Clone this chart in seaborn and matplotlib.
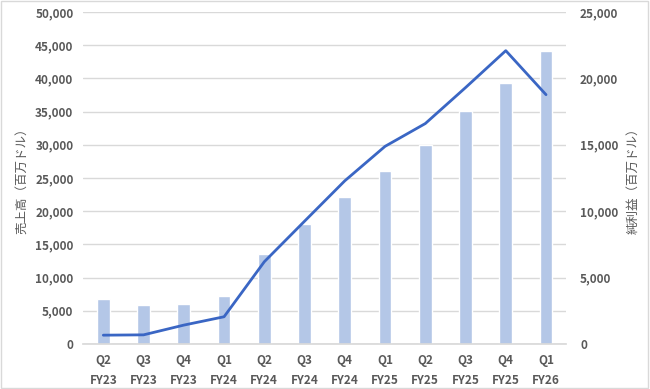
import numpy as np
import pandas as pd
import matplotlib
matplotlib.use("Agg")
import matplotlib.pyplot as plt
import seaborn as sns
from matplotlib.patches import Rectangle

quarters = ["Q2", "Q3", "Q4", "Q1", "Q2", "Q3", "Q4", "Q1", "Q2", "Q3", "Q4", "Q1"]
fiscal_years = ["FY23", "FY23", "FY23", "FY24", "FY24", "FY24", "FY24", "FY25", "FY25", "FY25", "FY25", "FY26"]
revenue = [6704, 5931, 6051, 7192, 13507, 18120, 22103, 26044, 30040, 35082, 39331, 44062]
net_income = [656, 680, 1414, 2043, 6188, 9243, 12285, 14881, 16599, 19309, 22091, 18775]
left_label = "売上高（百万ドル）"
right_label = "純利益（百万ドル）"

sns.set_theme(style="white")
plt.rcParams['font.family'] = ['Noto Sans CJK JP', 'DejaVu Sans']

labels = [f"{q}\n{fy}" for q, fy in zip(quarters, fiscal_years)]
df = pd.DataFrame({"label": labels, "revenue": revenue, "net": net_income,
                   "pos": np.arange(len(labels))})

fig = plt.figure(figsize=(6.5, 3.89), dpi=100)
fig.patches.append(Rectangle((0.002, 0.003), 0.995, 0.994, transform=fig.transFigure,
                             fill=False, edgecolor="#D9D9D9", linewidth=1.0))
ax = fig.add_axes([0.128, 0.116, 0.743, 0.853])
txt = "#595959"

sns.barplot(data=df, x="label", y="revenue", color="#B4C7E7", saturation=1,
            width=0.32, ax=ax, zorder=2)
ax.set_ylim(0, 50000)
ax.set_xlim(-0.5, len(labels) - 0.5)
ax.set_yticks(np.arange(0, 50001, 5000))
ax.set_yticklabels([f"{v:,}" for v in range(0, 50001, 5000)])
ax.grid(axis="y", color="#D9D9D9", linewidth=1.0, zorder=0)
ax.set_axisbelow(True)
for s in ["top", "right", "left"]:
    ax.spines[s].set_visible(False)
ax.spines["bottom"].set_color("#D9D9D9")
ax.tick_params(axis="both", length=0, labelsize=8.5, labelcolor=txt, pad=7)
for t in ax.get_xticklabels() + ax.get_yticklabels():
    t.set_fontweight("bold")
    t.set_linespacing(1.7)
ax.set_xlabel("")
ax.set_ylabel(left_label, fontsize=9, color=txt, labelpad=5)

ax2 = ax.twinx()
sns.lineplot(data=df, x="pos", y="net", color="#3A66C4", linewidth=2, ax=ax2, zorder=3)
ax2.set_ylim(0, 25000)
ax2.set_xlim(-0.5, len(labels) - 0.5)
ax2.set_yticks(np.arange(0, 25001, 5000))
ax2.set_yticklabels([f"{v:,}" for v in range(0, 25001, 5000)])
for s in ["top", "right", "left", "bottom"]:
    ax2.spines[s].set_visible(False)
ax2.tick_params(axis="y", length=0, labelsize=8.5, labelcolor=txt, pad=10)
for t in ax2.get_yticklabels():
    t.set_fontweight("bold")
ax2.set_xlabel("")
ax2.set_ylabel(right_label, fontsize=9, color=txt, labelpad=6)

fig.savefig("out.png", dpi=100)
